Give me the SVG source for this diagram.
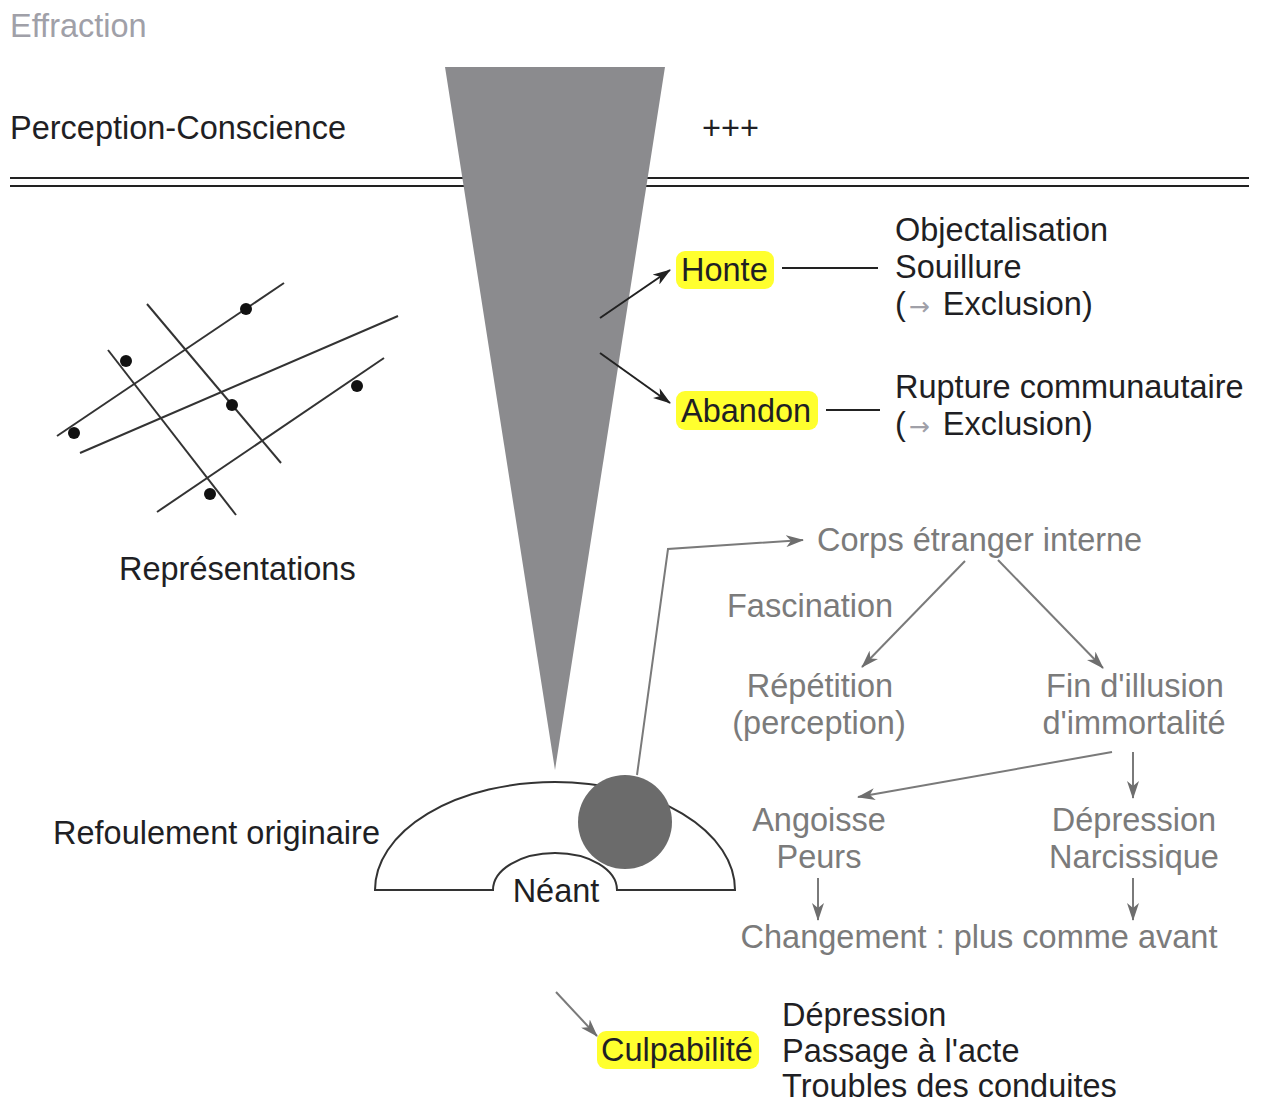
<svg xmlns="http://www.w3.org/2000/svg" width="1261" height="1103" viewBox="0 0 1261 1103">
<defs>
<style>
text{font-family:"Liberation Sans",Arial,sans-serif;font-size:32.5px;fill:#1f1f24}
.g{fill:#7b7b7b}
.lg{fill:#a0a0a8}
.c{text-anchor:middle}
.hl{fill:#ffff2e}
.ln{stroke:#222;stroke-width:2;fill:none}
.gl{stroke:#7a7a7a;stroke-width:2;fill:none}
.rl{stroke:#333;stroke-width:2;fill:none}
.dot{fill:#111}
</style>
<marker id="ab" markerWidth="18" markerHeight="12" refX="17" refY="6" orient="auto" markerUnits="userSpaceOnUse"><path d="M0,0 L18,6 L0,12 L5,6 Z" fill="#222"/></marker>
<marker id="ag" markerWidth="18" markerHeight="12" refX="17" refY="6" orient="auto" markerUnits="userSpaceOnUse"><path d="M0,0 L18,6 L0,12 L5,6 Z" fill="#6e6e6e"/></marker>
</defs>

<g id="effraction"><text x="10" y="37" class="lg">Effraction</text></g>
<g id="perception"><text x="10" y="139">Perception-Conscience</text></g>
<g id="plus"><text x="702" y="139">+++</text></g>
<g id="barrier"><line x1="10" y1="178" x2="1249" y2="178" class="ln"/><line x1="10" y1="186" x2="1249" y2="186" class="ln"/></g>

<g id="cone"><polygon points="445,67 665,67 555,770" fill="#8b8b8e"/></g>

<g id="representations">
<line x1="57" y1="436" x2="284" y2="283" class="rl"/>
<line x1="80" y1="453" x2="398" y2="316" class="rl"/>
<line x1="157" y1="512" x2="384" y2="358" class="rl"/>
<line x1="147" y1="304" x2="281" y2="463" class="rl"/>
<line x1="108" y1="350" x2="236" y2="515" class="rl"/>
<circle cx="74" cy="433" r="6" class="dot"/>
<circle cx="246" cy="309" r="6" class="dot"/>
<circle cx="126" cy="361" r="6" class="dot"/>
<circle cx="232" cy="405" r="6" class="dot"/>
<circle cx="357" cy="386" r="6" class="dot"/>
<circle cx="210" cy="494" r="6" class="dot"/>
<text x="119" y="580">Représentations</text>
</g>

<g id="honte"><rect x="676" y="251" width="98" height="38" rx="9" class="hl"/><text x="681" y="281">Honte</text></g>
<g id="honte-effets"><text x="895" y="241">Objectalisation</text><text x="895" y="278">Souillure</text><text x="895" y="315">(<tspan class="lg" font-family="DejaVu Sans" font-size="25" dx="3">→</tspan><tspan dx="4"> Exclusion)</tspan></text></g>

<g id="abandon"><rect x="676" y="391" width="142" height="39" rx="9" class="hl"/><text x="681" y="422">Abandon</text></g>
<g id="abandon-effets"><text x="895" y="398">Rupture communautaire</text><text x="895" y="435">(<tspan class="lg" font-family="DejaVu Sans" font-size="25" dx="3">→</tspan><tspan dx="4"> Exclusion)</tspan></text></g>

<g id="refoulement"><text x="53" y="844">Refoulement originaire</text></g>
<g id="hemisphere">
<path d="M375,890 A180,108 0 0 1 735,890 L617,890 A62,37 0 0 0 493,890 Z" fill="#fff" stroke="#333" stroke-width="2"/>
<circle cx="625" cy="822" r="47" fill="#6b6b6b"/>
<text x="556" y="902" class="c">Néant</text>
</g>

<g id="corps"><text x="817" y="551" class="g">Corps étranger interne</text></g>
<g id="fascination"><text x="727" y="617" class="g">Fascination</text></g>
<g id="repetition"><text x="820" y="697" class="g c">Répétition</text><text x="819" y="734" class="g c">(perception)</text></g>
<g id="fin-illusion"><text x="1135" y="697" class="g c">Fin d'illusion</text><text x="1134" y="734" class="g c">d'immortalité</text></g>
<g id="angoisse"><text x="819" y="831" class="g c">Angoisse</text><text x="819" y="868" class="g c">Peurs</text></g>
<g id="depression-narc"><text x="1134" y="831" class="g c">Dépression</text><text x="1134" y="868" class="g c">Narcissique</text></g>
<g id="changement"><text x="979" y="948" class="g c">Changement : plus comme avant</text></g>

<g id="culpabilite"><rect x="597" y="1031" width="162" height="38" rx="9" class="hl"/><text x="601" y="1061">Culpabilité</text></g>
<g id="culpabilite-effets"><text x="782" y="1026">Dépression</text><text x="782" y="1062">Passage à l'acte</text><text x="782" y="1097">Troubles des conduites</text></g>

<g id="connectors">
<line x1="600" y1="318" x2="670" y2="270" class="ln" stroke-width="1.6" marker-end="url(#ab)"/>
<line x1="600" y1="353" x2="670" y2="403" class="ln" stroke-width="1.6" marker-end="url(#ab)"/>
<line x1="782" y1="268" x2="878" y2="268" class="ln"/>
<line x1="826" y1="410" x2="880" y2="410" class="ln"/>
<polyline points="637,775 668,549 803,540" class="gl" stroke-width="1.5" marker-end="url(#ag)"/>
<line x1="965" y1="561" x2="862" y2="667" class="gl" marker-end="url(#ag)"/>
<line x1="998" y1="560" x2="1103" y2="668" class="gl" marker-end="url(#ag)"/>
<line x1="1112" y1="752" x2="858" y2="797" class="gl" marker-end="url(#ag)"/>
<line x1="1133" y1="752" x2="1133" y2="798" class="gl" marker-end="url(#ag)"/>
<line x1="818" y1="878" x2="818" y2="920" class="gl" marker-end="url(#ag)"/>
<line x1="1133" y1="878" x2="1133" y2="920" class="gl" marker-end="url(#ag)"/>
<line x1="556" y1="992" x2="597" y2="1036" class="gl" marker-end="url(#ag)"/>
</g>
</svg>
